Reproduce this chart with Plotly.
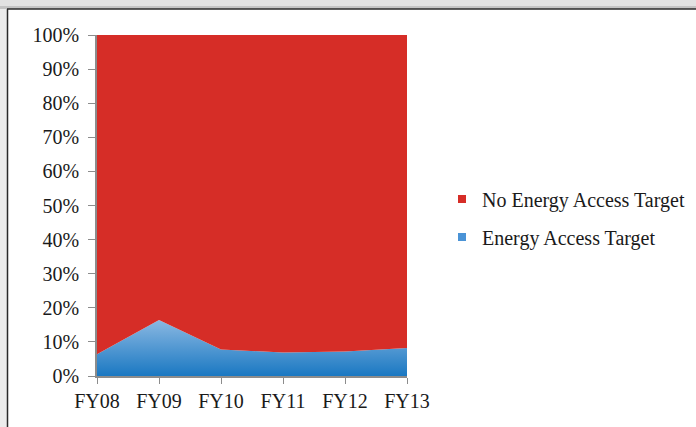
import plotly.graph_objects as go

years = ["FY08", "FY09", "FY10", "FY11", "FY12", "FY13"]
energy_access = [6.4, 16.4, 7.8, 6.9, 7.2, 8.2]
no_energy_access = [100 - v for v in energy_access]
y_ticks = [0, 10, 20, 30, 40, 50, 60, 70, 80, 90, 100]
y_labels = [f"{v}%" for v in y_ticks]

FONT = "Liberation Serif"
W, H = 696, 427
L, R, T, B = 97, 289, 35, 51
PW, PH = W - L - R, H - T - B


def px(x):
    return (x - L) / PW


def py(y):
    return (H - B - y) / PH


fig = go.Figure()
fig.add_trace(go.Scatter(
    x=years, y=energy_access, name="Energy Access Target",
    stackgroup="one", mode="none", showlegend=False,
    fillcolor="#3d8ed3",
    fillgradient=dict(type="vertical",
                      colorscale=[[0, "#1a78c2"], [1, "#8ab8e2"]]),
))
fig.add_trace(go.Scatter(
    x=years, y=no_energy_access, name="No Energy Access Target",
    stackgroup="one", mode="none", showlegend=False,
    fillcolor="#d62d27",
))
# legend entries
fig.add_trace(go.Scatter(
    x=[None], y=[None], mode="markers", name="No Energy Access Target",
    legendgroup="a",
    marker=dict(symbol="square", size=8, color="#d62d27"),
))
fig.add_trace(go.Scatter(
    x=[None], y=[None], mode="markers", name="Energy Access Target",
    legendgroup="b",
    marker=dict(symbol="square", size=8, color="#4a93d6"),
))

fig.update_layout(
    width=W, height=H,
    margin=dict(l=L, r=R, t=T, b=B, autoexpand=False),
    paper_bgcolor="white", plot_bgcolor="white",
    font=dict(family=FONT, size=20, color="#1a1a1a"),
    showlegend=True,
    legend=dict(x=px(442), y=py(218), xanchor="left", yanchor="middle",
                traceorder="grouped", font=dict(family=FONT, size=20),
                itemwidth=30, tracegroupgap=9, bgcolor="rgba(0,0,0,0)"),
    xaxis=dict(range=[0, 5], showgrid=False, zeroline=False,
               showline=True, linecolor="#8c8c8c", linewidth=1.5,
               ticks="outside", ticklen=6, tickcolor="#8c8c8c",
               tickfont=dict(family=FONT, size=20)),
    yaxis=dict(range=[0, 100], tickvals=y_ticks, ticktext=y_labels,
               showgrid=False, zeroline=False,
               showline=True, linecolor="#8c8c8c", linewidth=1.5,
               ticks="outside", ticklen=7, tickcolor="#8c8c8c",
               ticklabelstandoff=5,
               tickfont=dict(family=FONT, size=20)),
)

# frame / shadow around the chart (window-style edge at top and left)
fig.add_shape(type="rect", xref="paper", yref="paper",
              x0=px(0), x1=px(7), y0=py(H), y1=py(0),
              line=dict(width=0), fillcolor="#ececec", layer="above")
fig.add_shape(type="rect", xref="paper", yref="paper",
              x0=px(0), x1=px(W), y0=py(9), y1=py(0),
              line=dict(width=0), fillcolor="#e2e2e2", layer="above")
fig.add_shape(type="rect", xref="paper", yref="paper",
              x0=px(0), x1=px(W), y0=py(9), y1=py(6),
              line=dict(width=0), fillcolor="#c4c4c4", layer="above")
fig.add_shape(type="line", xref="paper", yref="paper",
              x0=px(7.5), x1=px(7.5), y0=py(9), y1=py(H),
              line=dict(color="#2a2a2a", width=1.5), layer="above")
fig.add_shape(type="line", xref="paper", yref="paper",
              x0=px(7), x1=px(W), y0=py(9), y1=py(9),
              line=dict(color="#2a2a2a", width=1.5), layer="above")

fig.write_html("out.html", config={"displayModeBar": False},
               post_script="document.body.style.margin='0';document.body.style.overflow='hidden';")
